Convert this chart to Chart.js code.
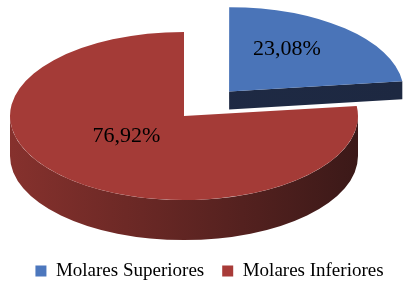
<!DOCTYPE html>
<html>
<head>
<meta charset="utf-8">
<script src="https://cdn.jsdelivr.net/npm/chart.js@4/dist/chart.umd.min.js"></script>
<style>
html,body{margin:0;padding:0;background:#fff;overflow:hidden}
#wrap{width:405px;height:294px}
</style>
</head>
<body>
<div id="wrap"><canvas id="c" width="405" height="294"></canvas></div>
<script>
// ---- data ----
const categories = ['Molares Superiores', 'Molares Inferiores'];
const percentages = [23.08, 76.92];

// ---- style ----
const topColors = ['#4a74b8', '#a43b37'];
const legendColors = ['#4c77bd', '#a83b38'];
const sideStops = [['#1f2b46', '#1d2841'], ['#86312d', '#3b1918']];
const explode = [272, 0];
const PIE_RADIUS = 174;
const TILT = 0.483;         // vertical squash of the 3D view
const VIEW_DX = -25.5;      // shift of the 3D view
const VIEW_DY = -5.75;
const DEPTH = [18, 40];     // extrusion in screen px
const LABEL_F = 0.5;
const LABEL_DY = -11;

function fmt(v) { return v.toFixed(2).replace('.', ',') + '%'; }

function arcGeom(arc) {
  const off = (arc.options.offset || 0) / 4;
  const start = arc.startAngle, end = arc.endAngle;
  const circ = end - start;
  const mid = (start + end) / 2;
  const fix = 1 - Math.sin(Math.min(Math.PI, circ || 0));
  return {
    x: arc.x, y: arc.y,
    cx: arc.x + Math.cos(mid) * off,
    cy: arc.y + Math.sin(mid) * off,
    R: arc.outerRadius + off * fix,
    start, end, mid
  };
}

function drawSide(ctx, arc, i) {
  const g = arcGeom(arc);
  if (![g.cx, g.cy, g.R].every(Number.isFinite)) return;
  const D = DEPTH[i] / TILT;
  const grad = ctx.createLinearGradient(g.cx - g.R, 0, g.cx + g.R, 0);
  grad.addColorStop(0, sideStops[i][0]);
  grad.addColorStop(1, sideStops[i][1]);
  ctx.fillStyle = grad;
  const walls = [];
  if (Math.cos(g.start) < -1e-6) walls.push(g.start);
  if (Math.cos(g.end) > 1e-6) walls.push(g.end);
  walls.forEach(a => {
    const px = g.cx + Math.cos(a) * g.R, py = g.cy + Math.sin(a) * g.R;
    ctx.beginPath();
    ctx.moveTo(g.cx, g.cy);
    ctx.lineTo(px, py);
    ctx.lineTo(px, py + D);
    ctx.lineTo(g.cx, g.cy + D);
    ctx.closePath();
    ctx.fill();
  });
  for (let k = -2; k <= 2; k += 2) {
    const a0 = Math.max(g.start, k * Math.PI);
    const a1 = Math.min(g.end, (k + 1) * Math.PI);
    if (a1 - a0 <= 1e-6) continue;
    ctx.beginPath();
    ctx.arc(g.cx, g.cy, g.R, a0, a1, false);
    ctx.lineTo(g.cx + Math.cos(a1) * g.R, g.cy + Math.sin(a1) * g.R + D);
    ctx.arc(g.cx, g.cy + D, g.R, a1, a0, true);
    ctx.closePath();
    ctx.fill();
  }
}

const pie3d = {
  id: 'pie3d',
  beforeDatasetsDraw(chart) {
    const ctx = chart.ctx;
    const arcs = chart.getDatasetMeta(0).data;
    const y0 = arcs[0].y;
    ctx.save();
    ctx.translate(VIEW_DX, y0 + VIEW_DY);
    ctx.scale(1, TILT);
    ctx.translate(0, -y0);
    arcs.forEach((arc, i) => drawSide(ctx, arc, i));
  },
  afterDatasetsDraw(chart) {
    const ctx = chart.ctx;
    ctx.restore();
    const arcs = chart.getDatasetMeta(0).data;
    const vals = chart.data.datasets[0].data;
    ctx.save();
    ctx.fillStyle = '#000';
    ctx.font = '22px "Liberation Serif"';
    ctx.textAlign = 'center';
    ctx.textBaseline = 'middle';
    arcs.forEach((arc, i) => {
      const g = arcGeom(arc);
      const lx = VIEW_DX + g.cx + Math.cos(g.mid) * g.R * LABEL_F;
      const ly = VIEW_DY + g.y + (g.cy + Math.sin(g.mid) * g.R * LABEL_F - g.y) * TILT + LABEL_DY;
      ctx.fillText(fmt(vals[i]), lx, ly);
    });
    ctx.restore();
  }
};

new Chart(document.getElementById('c'), {
  type: 'pie',
  data: {
    labels: categories,
    datasets: [{
      data: percentages,
      backgroundColor: topColors,
      borderWidth: 0,
      offset: explode,
      radius: PIE_RADIUS,
      cutout: '0%',
      clip: false
    }]
  },
  options: {
    responsive: false,
    animation: false,
    events: [],
    layout: { padding: { top: 0, bottom: 3.5, left: 14, right: 0 } },
    plugins: {
      tooltip: { enabled: false },
      legend: {
        position: 'bottom',
        labels: {
          boxWidth: 11,
          boxHeight: 11,
          padding: 18,
          color: '#000',
          font: { family: 'Liberation Serif', size: 19 },
          generateLabels(chart) {
            return chart.data.labels.map((l, i) => ({
              text: l,
              fillStyle: legendColors[i],
              strokeStyle: legendColors[i],
              lineWidth: 0,
              hidden: false,
              index: i,
              fontColor: '#000'
            }));
          }
        }
      }
    }
  },
  plugins: [pie3d]
});
</script>
</body>
</html>
